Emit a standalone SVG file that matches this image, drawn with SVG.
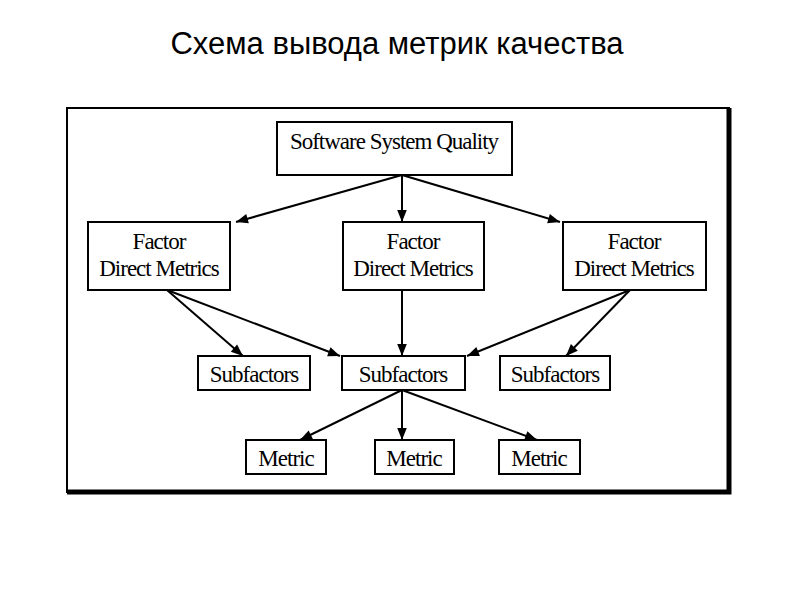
<svg xmlns="http://www.w3.org/2000/svg" width="794" height="595" viewBox="0 0 794 595">
<defs>
<marker id="ah" viewBox="0 0 10 10" refX="10" refY="5" markerWidth="14" markerHeight="12" markerUnits="userSpaceOnUse" orient="auto"><path d="M0,1 L10,5 L0,9 z" fill="#000"/></marker>
<style>
.b{fill:#fff;stroke:#000;stroke-width:2}
.t{font-family:"Liberation Serif",serif;font-size:23px;text-anchor:middle;fill:#000;letter-spacing:-1px}
.c line{stroke:#000;stroke-width:2;marker-end:url(#ah)}
</style>
</defs>
<rect width="794" height="595" fill="#fff"/>
<text x="397" y="54" font-family="Liberation Sans, sans-serif" font-size="31" text-anchor="middle">Схема вывода метрик качества</text>
<rect x="67" y="108" width="662" height="384" fill="#fff" stroke="#000" stroke-width="2"/>
<path d="M729,108 V492 H67" fill="none" stroke="#000" stroke-width="5"/>
<g class="c">
<line x1="402" y1="175" x2="236" y2="222"/>
<line x1="402" y1="175" x2="402" y2="222"/>
<line x1="402" y1="175" x2="560" y2="222"/>
<line x1="167" y1="290" x2="243" y2="356"/>
<line x1="167" y1="290" x2="340" y2="356"/>
<line x1="402" y1="290" x2="402" y2="356"/>
<line x1="630" y1="290" x2="467" y2="356"/>
<line x1="630" y1="290" x2="566" y2="356"/>
<line x1="402" y1="390" x2="300" y2="440"/>
<line x1="402" y1="390" x2="402" y2="440"/>
<line x1="402" y1="390" x2="537" y2="440"/>
</g>
<g id="quality"><rect class="b" x="277" y="122" width="235" height="53"/><text class="t" x="394" y="149">Software System Quality</text></g>
<g id="f1"><rect class="b" x="88" y="222" width="142" height="68"/><text class="t" x="159" y="249">Factor</text><text class="t" x="159" y="276">Direct Metrics</text></g>
<g id="f2"><rect class="b" x="343" y="222" width="141" height="68"/><text class="t" x="413" y="249">Factor</text><text class="t" x="413" y="276">Direct Metrics</text></g>
<g id="f3"><rect class="b" x="563" y="222" width="143" height="68"/><text class="t" x="634" y="249">Factor</text><text class="t" x="634" y="276">Direct Metrics</text></g>
<g id="s1"><rect class="b" x="198" y="356" width="112" height="34" stroke-width="3"/><text class="t" x="254" y="382">Subfactors</text></g>
<g id="s2"><rect class="b" x="342" y="356" width="123" height="34"/><text class="t" x="403" y="382">Subfactors</text></g>
<g id="s3"><rect class="b" x="500" y="356" width="110" height="34"/><text class="t" x="555" y="382">Subfactors</text></g>
<g id="m1"><rect class="b" x="246" y="440" width="80" height="34"/><text class="t" x="286" y="466">Metric</text></g>
<g id="m2"><rect class="b" x="375" y="440" width="79" height="34"/><text class="t" x="414" y="466">Metric</text></g>
<g id="m3"><rect class="b" x="499" y="440" width="81" height="34"/><text class="t" x="539" y="466">Metric</text></g>
</svg>
